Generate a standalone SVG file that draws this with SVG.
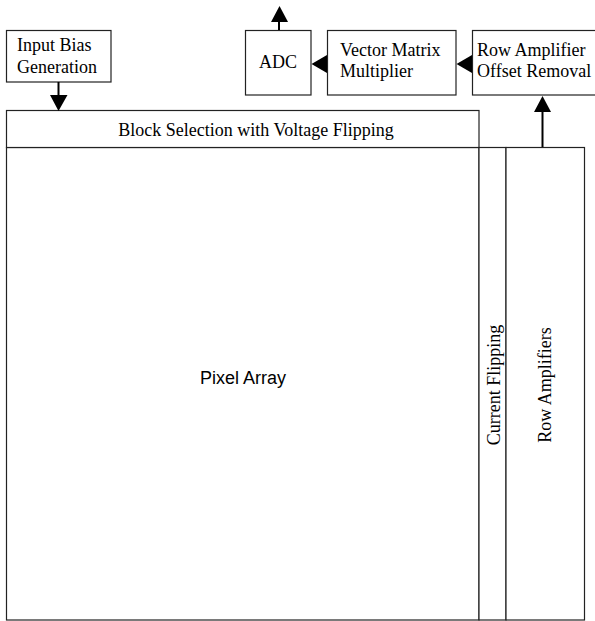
<svg xmlns="http://www.w3.org/2000/svg" width="595" height="621" viewBox="0 0 595 621">
<style>
.box{fill:#fff;stroke:#222;stroke-width:1.2}
.t{font-family:"Liberation Serif","Times New Roman",serif;font-size:18px;fill:#000}
.s{font-family:"Liberation Sans",Arial,sans-serif;font-size:18px;fill:#000}
.ln{stroke:#000;stroke-width:2;fill:none}
.ah{fill:#000}
</style>
<rect width="595" height="621" fill="#fff"/>
<g id="pixel-array">
<rect class="box" x="6.5" y="147.5" width="472.5" height="472.5"/>
<text class="s" x="243" y="384" text-anchor="middle">Pixel Array</text>
</g>
<g id="block-selection">
<rect class="box" x="6.5" y="110.5" width="472.5" height="37"/>
<text class="t" x="256" y="136" text-anchor="middle">Block Selection with Voltage Flipping</text>
</g>
<g id="current-flipping">
<rect class="box" x="479" y="147.5" width="27" height="472.5"/>
<text class="t" transform="translate(500,385) rotate(-90)" text-anchor="middle">Current Flipping</text>
</g>
<g id="row-amplifiers">
<rect class="box" x="506" y="147.5" width="78.5" height="472.5"/>
<text class="t" transform="translate(551,385) rotate(-90)" text-anchor="middle">Row Amplifiers</text>
</g>
<g id="input-bias">
<rect class="box" x="6.5" y="30.5" width="104.5" height="51.5"/>
<text class="t" x="17" y="51">Input Bias</text>
<text class="t" x="17" y="73">Generation</text>
</g>
<g id="adc">
<rect class="box" x="245.5" y="30.5" width="65.5" height="64.5"/>
<text class="t" x="278" y="68" text-anchor="middle">ADC</text>
</g>
<g id="vmm">
<rect class="box" x="327.5" y="30.5" width="128.5" height="64.5"/>
<text class="t" x="340" y="56">Vector Matrix</text>
<text class="t" x="340" y="77">Multiplier</text>
</g>
<g id="row-amp-offset">
<rect class="box" x="472.5" y="30.5" width="130" height="64.5"/>
<text class="t" x="477" y="56">Row Amplifier</text>
<text class="t" x="477" y="77">Offset Removal</text>
</g>
<g id="connectors">
<line class="ln" x1="58.5" y1="82" x2="58.5" y2="96"/>
<polygon class="ah" points="50,95 67.5,95 58.5,111"/>
<line class="ln" x1="279" y1="30" x2="279" y2="21"/>
<polygon class="ah" points="271,22 288,22 279.5,6"/>
<polygon class="ah" points="327,55 327,73 311.5,64"/>
<polygon class="ah" points="472,55 472,73 456.5,64"/>
<line class="ln" x1="542.5" y1="147" x2="542.5" y2="111"/>
<polygon class="ah" points="534,112 551,112 542.5,96"/>
</g>
</svg>
